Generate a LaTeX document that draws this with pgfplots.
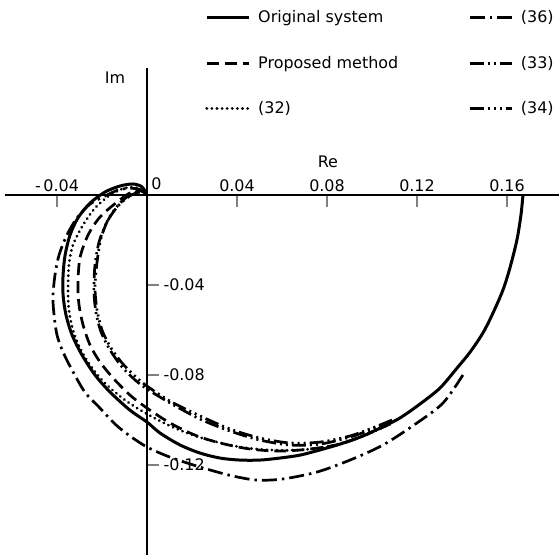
\documentclass[border=0pt]{standalone}
\usepackage{fontspec}
\setmainfont{DejaVu Sans}
\usepackage{pgfplots}
\pgfplotsset{compat=1.18}
\begin{document}
\fontsize{16}{19}\selectfont
\begin{tikzpicture}
\begin{axis}[
 x=2250bp, y=2250bp,
 axis lines=middle,
 axis line style={-, line width=1.1bp},
 xmin=-0.0631, xmax=0.19, ymin=-0.1600, ymax=0.0564,
 xtick={-0.04,0.04,0.08,0.12,0.16},
 xticklabels={-\,0.04,0.04,0.08,0.12,0.16},
 ytick={-0.12,-0.08,-0.04},
 yticklabels={-0.12,-0.08,-0.04},
 major tick length=12bp,
 tick align=center,
 xtick style={line width=1.1bp, yshift=-6bp},
 ytick style={line width=1.1bp, xshift=6bp},
 xticklabel style={anchor=south, yshift=4bp},
 yticklabel style={anchor=west, xshift=17bp},
 every tick label/.append style={font=\fontsize{16}{19}\selectfont},
 legend columns=2,
 legend cell align=left,
 legend style={draw=none, fill=none, at={(axis cs:0.0258,0.0830)}, anchor=north west,
   font=\fontsize{16}{19}\selectfont, row sep=27bp, inner sep=0pt,
   /tikz/every even column/.append style={column sep=68bp},
   /tikz/every odd column/.append style={column sep=6bp}},
 legend image code/.code={\draw[#1] (0bp,0bp) -- (42bp,0bp);},
]
% Original system
\addplot[black, line width=3bp, smooth] coordinates {
(0.1671,0) (0.1662,-0.0089) (0.1644,-0.0200) (0.1613,-0.0324) (0.1582,-0.0422)
(0.1538,-0.0524) (0.1493,-0.0613) (0.1436,-0.0698) (0.1378,-0.0769) (0.1302,-0.0858)
(0.1213,-0.0929) (0.1124,-0.0991) (0.1036,-0.1036) (0.0947,-0.1076) (0.0858,-0.1107)
(0.0769,-0.1133) (0.0680,-0.1156) (0.0591,-0.1169) (0.0502,-0.1178) (0.0413,-0.1178)
(0.0324,-0.1169) (0.0236,-0.1147) (0.0147,-0.1111) (0.0058,-0.1058) (0,-0.1009)
(-0.0076,-0.0956) (-0.0164,-0.0876) (-0.0231,-0.0800) (-0.0289,-0.0711) (-0.0333,-0.0622)
(-0.0360,-0.0533) (-0.0373,-0.0444) (-0.0373,-0.0356) (-0.0364,-0.0267) (-0.0342,-0.0178)
(-0.0307,-0.0102) (-0.0253,-0.0036) (-0.0187,0.0013) (-0.0120,0.0040) (-0.0062,0.0049)
(-0.0022,0.0036) (0,0)};
\addlegendentry{Original system}
% (36)
\addplot[black, line width=2.7bp, dash pattern=on 15bp off 5bp on 2.5bp off 5bp, smooth] coordinates {
(0.1404,-0.0800) (0.1316,-0.0924) (0.1200,-0.1013) (0.1049,-0.1111) (0.0902,-0.1178)
(0.0756,-0.1231) (0.0604,-0.1262) (0.0489,-0.1267) (0.0382,-0.1249) (0.0280,-0.1222)
(0.0178,-0.1191) (0.0089,-0.1160) (0,-0.1120) (-0.0076,-0.1071) (-0.0142,-0.1018)
(-0.0209,-0.0947) (-0.0276,-0.0876) (-0.0333,-0.0778) (-0.0373,-0.0698) (-0.0400,-0.0622)
(-0.0413,-0.0533) (-0.0418,-0.0453) (-0.0409,-0.0356) (-0.0391,-0.0267) (-0.0356,-0.0178)
(-0.0311,-0.0102) (-0.0253,-0.0040) (-0.0187,-0.0005) (-0.0129,0.0022) (-0.0076,0.0030)
(-0.0031,0.0024) (0,0)};
\addlegendentry{(36)}
% Proposed method
\addplot[black, line width=2.7bp, dash pattern=on 12bp off 6bp, smooth] coordinates {
(0.1080,-0.1018) (0.0969,-0.1067) (0.0858,-0.1107) (0.0724,-0.1129) (0.0591,-0.1138)
(0.0458,-0.1129) (0.0324,-0.1102) (0.0213,-0.1067) (0.0102,-0.1013) (0,-0.0947)
(-0.0076,-0.0889) (-0.0151,-0.0813) (-0.0209,-0.0742) (-0.0253,-0.0667) (-0.0284,-0.0578)
(-0.0302,-0.0489) (-0.0307,-0.0400) (-0.0298,-0.0280) (-0.0262,-0.0178) (-0.0209,-0.0098)
(-0.0133,-0.0031) (-0.0076,0.0009) (-0.0031,0.0022) (0,0)};
\addlegendentry{Proposed method}
% (33)
\addplot[black, line width=2.7bp, dash pattern=on 14bp off 4bp on 2bp off 4bp on 2bp off 4bp, smooth] coordinates {
(0.1089,-0.1004) (0.1013,-0.1036) (0.0902,-0.1076) (0.0769,-0.1107) (0.0636,-0.1111)
(0.0502,-0.1089) (0.0369,-0.1049) (0.0236,-0.0996) (0.0102,-0.0924) (0,-0.0862)
(-0.0053,-0.0822) (-0.0111,-0.0764) (-0.0164,-0.0689) (-0.0204,-0.0609) (-0.0227,-0.0520)
(-0.0236,-0.0422) (-0.0231,-0.0311) (-0.0213,-0.0209) (-0.0178,-0.0120) (-0.0129,-0.0049)
(-0.0076,-0.0004) (-0.0031,0.0013) (0,0)};
\addlegendentry{(33)}
% (32)
\addplot[black, line width=3bp, line cap=round, dash pattern=on 0.1bp off 5bp, smooth] coordinates {
(0.1080,-0.1018) (0.0947,-0.1076) (0.0813,-0.1116) (0.0680,-0.1133) (0.0547,-0.1133)
(0.0413,-0.1120) (0.0258,-0.1084) (0.0124,-0.1036) (0,-0.0973) (-0.0098,-0.0911)
(-0.0187,-0.0836) (-0.0253,-0.0756) (-0.0298,-0.0680) (-0.0329,-0.0600) (-0.0347,-0.0511)
(-0.0351,-0.0422) (-0.0347,-0.0311) (-0.0329,-0.0222) (-0.0284,-0.0133) (-0.0231,-0.0058)
(-0.0164,0) (-0.0098,0.0031) (-0.0040,0.0031) (0,0)};
\addlegendentry{(32)}
% (34)
\addplot[black, line width=2.7bp, dash pattern=on 14bp off 4bp on 2bp off 4bp on 2bp off 4bp on 2bp off 4bp, smooth] coordinates {
(0.1089,-0.1000) (0.1013,-0.1031) (0.0902,-0.1071) (0.0769,-0.1098) (0.0636,-0.1102)
(0.0502,-0.1080) (0.0369,-0.1040) (0.0236,-0.0982) (0.0102,-0.0916) (0,-0.0849)
(-0.0049,-0.0809) (-0.0107,-0.0751) (-0.0160,-0.0680) (-0.0200,-0.0600) (-0.0222,-0.0511)
(-0.0231,-0.0413) (-0.0222,-0.0298) (-0.0204,-0.0191) (-0.0169,-0.0102) (-0.0120,-0.0036)
(-0.0071,0.0004) (-0.0027,0.0018) (0,0)};
\addlegendentry{(34)}
\node at (axis cs:0.0804,0.0147) {Re};
\node at (axis cs:-0.0142,0.0520) {Im};
\node[anchor=south west, inner sep=2bp] at (axis cs:0.0010,0.0015) {0};
\coordinate (bl) at (axis cs:-0.06533,-0.16);
\coordinate (tr) at (axis cs:0.18311,0.08667);
\end{axis}
\pgfresetboundingbox
\useasboundingbox (bl) rectangle (tr);
\end{tikzpicture}
\end{document}
